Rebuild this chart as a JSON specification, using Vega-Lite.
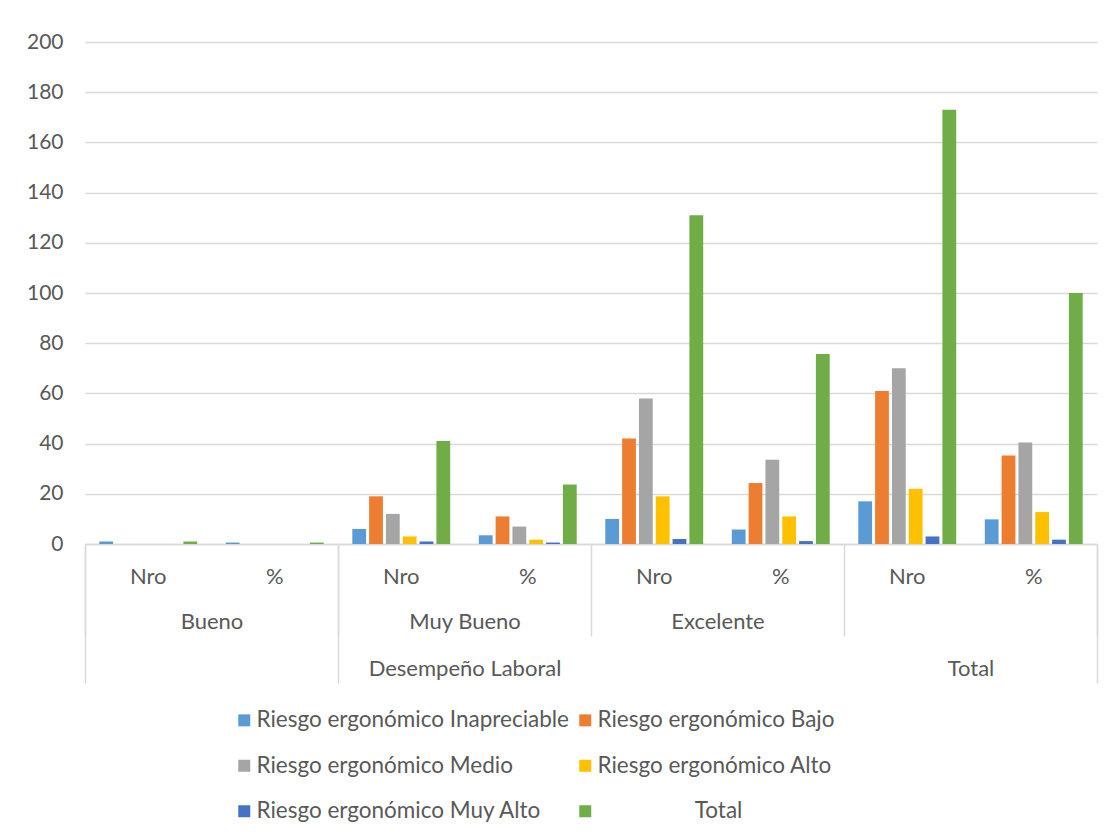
{
  "$schema": "https://vega.github.io/schema/vega-lite/v6.json",
  "width": 1012,
  "height": 502,
  "autosize": {"type": "none"},
  "padding": {"left": 85, "top": 42, "right": 16, "bottom": 293},
  "background": "#ffffff",
  "config": {
    "view": {"stroke": null},
    "font": "Lato",
    "axis": {"labelFont": "Lato", "labelFontSize": 22, "labelColor": "#595959", "title": null},
    "legend": {"labelFont": "Lato", "labelFontSize": 22.5, "labelColor": "#595959"}
  },
  "layer": [
    {
      "data": {
        "values": [
          {"grupo": "Bueno", "columna": "Bueno Nro", "serie": "Riesgo ergonómico Inapreciable", "valor": 1},
          {"grupo": "Bueno", "columna": "Bueno Nro", "serie": "Riesgo ergonómico Bajo", "valor": 0},
          {"grupo": "Bueno", "columna": "Bueno Nro", "serie": "Riesgo ergonómico Medio", "valor": 0},
          {"grupo": "Bueno", "columna": "Bueno Nro", "serie": "Riesgo ergonómico Alto", "valor": 0},
          {"grupo": "Bueno", "columna": "Bueno Nro", "serie": "Riesgo ergonómico Muy Alto", "valor": 0},
          {"grupo": "Bueno", "columna": "Bueno Nro", "serie": "Total", "valor": 1},
          {"grupo": "Bueno", "columna": "Bueno %", "serie": "Riesgo ergonómico Inapreciable", "valor": 0.58},
          {"grupo": "Bueno", "columna": "Bueno %", "serie": "Riesgo ergonómico Bajo", "valor": 0},
          {"grupo": "Bueno", "columna": "Bueno %", "serie": "Riesgo ergonómico Medio", "valor": 0},
          {"grupo": "Bueno", "columna": "Bueno %", "serie": "Riesgo ergonómico Alto", "valor": 0},
          {"grupo": "Bueno", "columna": "Bueno %", "serie": "Riesgo ergonómico Muy Alto", "valor": 0},
          {"grupo": "Bueno", "columna": "Bueno %", "serie": "Total", "valor": 0.58},
          {"grupo": "Muy Bueno", "columna": "Muy Bueno Nro", "serie": "Riesgo ergonómico Inapreciable", "valor": 6},
          {"grupo": "Muy Bueno", "columna": "Muy Bueno Nro", "serie": "Riesgo ergonómico Bajo", "valor": 19},
          {"grupo": "Muy Bueno", "columna": "Muy Bueno Nro", "serie": "Riesgo ergonómico Medio", "valor": 12},
          {"grupo": "Muy Bueno", "columna": "Muy Bueno Nro", "serie": "Riesgo ergonómico Alto", "valor": 3},
          {"grupo": "Muy Bueno", "columna": "Muy Bueno Nro", "serie": "Riesgo ergonómico Muy Alto", "valor": 1},
          {"grupo": "Muy Bueno", "columna": "Muy Bueno Nro", "serie": "Total", "valor": 41},
          {"grupo": "Muy Bueno", "columna": "Muy Bueno %", "serie": "Riesgo ergonómico Inapreciable", "valor": 3.47},
          {"grupo": "Muy Bueno", "columna": "Muy Bueno %", "serie": "Riesgo ergonómico Bajo", "valor": 10.98},
          {"grupo": "Muy Bueno", "columna": "Muy Bueno %", "serie": "Riesgo ergonómico Medio", "valor": 6.94},
          {"grupo": "Muy Bueno", "columna": "Muy Bueno %", "serie": "Riesgo ergonómico Alto", "valor": 1.73},
          {"grupo": "Muy Bueno", "columna": "Muy Bueno %", "serie": "Riesgo ergonómico Muy Alto", "valor": 0.58},
          {"grupo": "Muy Bueno", "columna": "Muy Bueno %", "serie": "Total", "valor": 23.7},
          {"grupo": "Excelente", "columna": "Excelente Nro", "serie": "Riesgo ergonómico Inapreciable", "valor": 10},
          {"grupo": "Excelente", "columna": "Excelente Nro", "serie": "Riesgo ergonómico Bajo", "valor": 42},
          {"grupo": "Excelente", "columna": "Excelente Nro", "serie": "Riesgo ergonómico Medio", "valor": 58},
          {"grupo": "Excelente", "columna": "Excelente Nro", "serie": "Riesgo ergonómico Alto", "valor": 19},
          {"grupo": "Excelente", "columna": "Excelente Nro", "serie": "Riesgo ergonómico Muy Alto", "valor": 2},
          {"grupo": "Excelente", "columna": "Excelente Nro", "serie": "Total", "valor": 131},
          {"grupo": "Excelente", "columna": "Excelente %", "serie": "Riesgo ergonómico Inapreciable", "valor": 5.78},
          {"grupo": "Excelente", "columna": "Excelente %", "serie": "Riesgo ergonómico Bajo", "valor": 24.28},
          {"grupo": "Excelente", "columna": "Excelente %", "serie": "Riesgo ergonómico Medio", "valor": 33.53},
          {"grupo": "Excelente", "columna": "Excelente %", "serie": "Riesgo ergonómico Alto", "valor": 10.98},
          {"grupo": "Excelente", "columna": "Excelente %", "serie": "Riesgo ergonómico Muy Alto", "valor": 1.16},
          {"grupo": "Excelente", "columna": "Excelente %", "serie": "Total", "valor": 75.72},
          {"grupo": "Total", "columna": "Total Nro", "serie": "Riesgo ergonómico Inapreciable", "valor": 17},
          {"grupo": "Total", "columna": "Total Nro", "serie": "Riesgo ergonómico Bajo", "valor": 61},
          {"grupo": "Total", "columna": "Total Nro", "serie": "Riesgo ergonómico Medio", "valor": 70},
          {"grupo": "Total", "columna": "Total Nro", "serie": "Riesgo ergonómico Alto", "valor": 22},
          {"grupo": "Total", "columna": "Total Nro", "serie": "Riesgo ergonómico Muy Alto", "valor": 3},
          {"grupo": "Total", "columna": "Total Nro", "serie": "Total", "valor": 173},
          {"grupo": "Total", "columna": "Total %", "serie": "Riesgo ergonómico Inapreciable", "valor": 9.83},
          {"grupo": "Total", "columna": "Total %", "serie": "Riesgo ergonómico Bajo", "valor": 35.26},
          {"grupo": "Total", "columna": "Total %", "serie": "Riesgo ergonómico Medio", "valor": 40.46},
          {"grupo": "Total", "columna": "Total %", "serie": "Riesgo ergonómico Alto", "valor": 12.72},
          {"grupo": "Total", "columna": "Total %", "serie": "Riesgo ergonómico Muy Alto", "valor": 1.73},
          {"grupo": "Total", "columna": "Total %", "serie": "Total", "valor": 100}
        ]
      },
      "mark": {"type": "bar"},
      "encoding": {
        "x": {
          "field": "columna",
          "type": "nominal",
          "scale": {
            "domain": ["Bueno Nro", "Bueno %", "Muy Bueno Nro", "Muy Bueno %", "Excelente Nro", "Excelente %", "Total Nro", "Total %"],
            "paddingInner": 0,
            "paddingOuter": 0
          },
          "axis": {
            "orient": "bottom",
            "labelExpr": "indexof(datum.value, '%') >= 0 ? '%' : 'Nro'",
            "labelAngle": 0,
            "labelBaseline": "middle",
            "ticks": false,
            "tickSize": 0,
            "labelPadding": 32,
            "domain": true,
            "domainColor": "#D9D9D9",
            "domainWidth": 1.5,
            "grid": false
          }
        },
        "xOffset": {
          "field": "serie",
          "type": "nominal",
          "scale": {
            "domain": ["Riesgo ergonómico Inapreciable", "Riesgo ergonómico Bajo", "Riesgo ergonómico Medio", "Riesgo ergonómico Alto", "Riesgo ergonómico Muy Alto", "Total"],
            "paddingInner": 0.18,
            "paddingOuter": 0.85
          }
        },
        "y": {
          "field": "valor",
          "type": "quantitative",
          "scale": {"domain": [0, 200], "nice": false},
          "axis": {
            "values": [0, 20, 40, 60, 80, 100, 120, 140, 160, 180, 200],
            "labelFontSize": 21,
            "domain": false,
            "ticks": false,
            "tickSize": 0,
            "labelPadding": 22,
            "grid": true,
            "gridColor": "#D9D9D9",
            "gridWidth": 1.3
          }
        },
        "color": {
          "field": "serie",
          "type": "nominal",
          "scale": {
            "domain": ["Riesgo ergonómico Inapreciable", "Riesgo ergonómico Medio", "Riesgo ergonómico Muy Alto", "Riesgo ergonómico Bajo", "Riesgo ergonómico Alto", "Total"],
            "range": ["#5B9BD5", "#A5A5A5", "#4472C4", "#ED7D31", "#FFC000", "#70AD47"]
          },
          "legend": {
            "title": null,
            "orient": "none",
            "legendX": 148,
            "legendY": 667,
            "columns": 2,
            "columnPadding": 4,
            "rowPadding": 22.5,
            "symbolType": "square",
            "symbolSize": 144,
            "symbolStrokeWidth": 0,
            "labelOffset": 1,
            "labelLimit": 0,
            "labelExpr": "datum.label == 'Total' ? '\u200d\u00a0\u00a0\u00a0\u00a0\u00a0\u00a0\u00a0\u00a0\u00a0\u00a0\u00a0\u00a0\u00a0\u00a0\u00a0\u00a0\u00a0Total' : datum.label"
          }
        }
      }
    },
    {
      "data": {"values": [{"grupo": "Bueno"}, {"grupo": "Muy Bueno"}, {"grupo": "Excelente"}, {"grupo": "Total"}]},
      "mark": {"type": "text"},
      "encoding": {
        "text": {"value": ""},
        "x": {
          "field": "grupo",
          "type": "nominal",
          "scale": {"domain": ["Bueno", "Muy Bueno", "Excelente", "Total"], "paddingInner": 0, "paddingOuter": 0},
          "axis": {
            "orient": "bottom",
            "labelExpr": "datum.value === 'Total' ? '' : datum.value",
            "labelAngle": 0,
            "labelBaseline": "middle",
            "labelLimit": 0,
            "domain": false,
            "ticks": true,
            "tickBand": "extent",
            "tickSize": 92,
            "tickColor": "#D9D9D9",
            "tickWidth": 1.5,
            "labelPadding": -15,
            "grid": false
          }
        }
      }
    },
    {
      "data": {"values": [{"grupo": "Bueno"}, {"grupo": "Muy Bueno"}, {"grupo": "Excelente"}, {"grupo": "Total"}]},
      "mark": {"type": "text"},
      "encoding": {
        "text": {"value": ""},
        "x": {
          "field": "grupo",
          "type": "nominal",
          "scale": {"domain": ["Bueno", "Muy Bueno", "Excelente", "Total"], "paddingInner": 0, "paddingOuter": 0},
          "axis": {
            "orient": "bottom",
            "labelExpr": "datum.value === 'Muy Bueno' ? 'Desempeño Laboral' : (datum.value === 'Total' ? 'Total' : '')",
            "labelAngle": 0,
            "labelBaseline": "middle",
            "labelOverlap": false,
            "labelLimit": 0,
            "domain": false,
            "ticks": true,
            "tickBand": "extent",
            "tickSize": 139,
            "tickColor": "#D9D9D9",
            "tickWidth": 1.5,
            "tickOpacity": {"condition": {"test": "datum.value === 'Muy Bueno' || datum.value === 'Excelente'", "value": 0}, "value": 1},
            "labelPadding": -15,
            "grid": false
          }
        }
      }
    }
  ],
  "resolve": {"scale": {"x": "independent"}}
}
